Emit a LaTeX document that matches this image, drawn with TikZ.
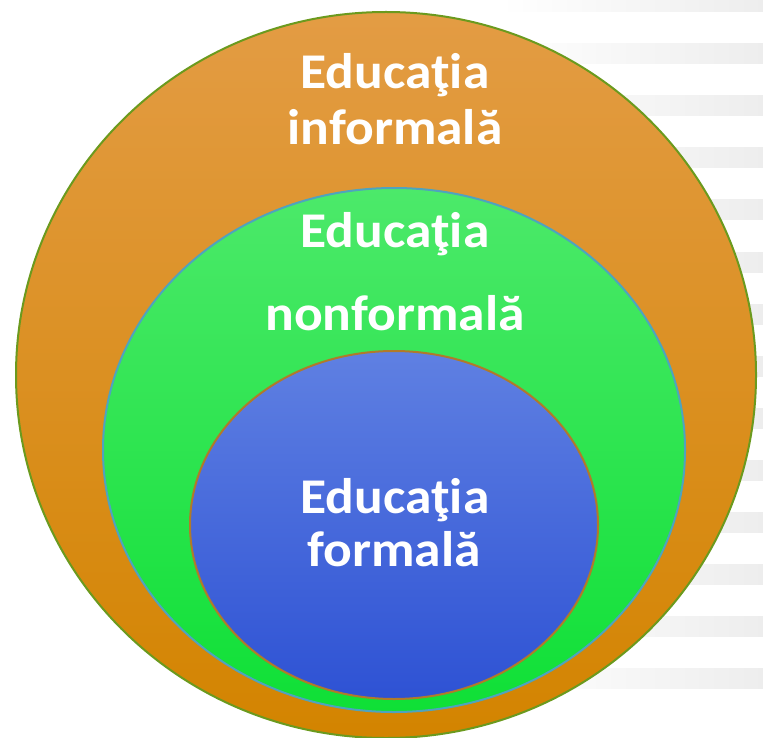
\documentclass[tikz,border=0pt]{standalone}
\usepackage{fontspec}
\setmainfont{Carlito}[FakeStretch=1.07]
\definecolor{orangetop}{HTML}{E39C44}
\definecolor{orangebot}{HTML}{D38400}
\definecolor{orangeedge}{HTML}{6B9A1E}
\definecolor{greentop}{HTML}{4CE96A}
\definecolor{greenbot}{HTML}{0FE036}
\definecolor{greenedge}{HTML}{4FA3BE}
\definecolor{bluetop}{HTML}{5F80E2}
\definecolor{bluebot}{HTML}{2E52D4}
\definecolor{blueedge}{HTML}{B07A2A}
\tikzset{
  lbl/.style={text=white,font=\bfseries\fontsize{25}{29}\selectfont,inner sep=0pt,anchor=base},
  band/.style={left color=white,right color=black!7}
}
\begin{document}
\begin{tikzpicture}[x=0.5pt,y=-0.5pt]
\useasboundingbox (0,0) rectangle (763,737);
% stripes behind
\foreach \k in {0,...,13}
  \shade[band] (500,{-8+52*\k}) rectangle (763,{12+52*\k});
% the three ellipses
\shade[top color=orangetop,bottom color=orangebot,draw=orangeedge,line width=1pt]
  (386,375) ellipse [x radius=370,y radius=363];
\shade[top color=greentop,bottom color=greenbot,draw=greenedge,line width=1pt]
  (394,450) ellipse [x radius=291,y radius=262];
\shade[top color=bluetop,bottom color=bluebot,draw=blueedge,line width=1pt]
  (394,525) ellipse [x radius=204,y radius=174];
% labels
\node[lbl] (infa) at (395,89) {Educaţia};
\node[lbl] (infb) at (395,145) {informală};
\node[lbl] (nona) at (395,248) {Educaţia};
\node[lbl] (nonb) at (395,330) {nonformală};
\node[lbl] (fora) at (395,513) {Educaţia};
\node[lbl] (forb) at (394,566) {formală};
\end{tikzpicture}
\end{document}
